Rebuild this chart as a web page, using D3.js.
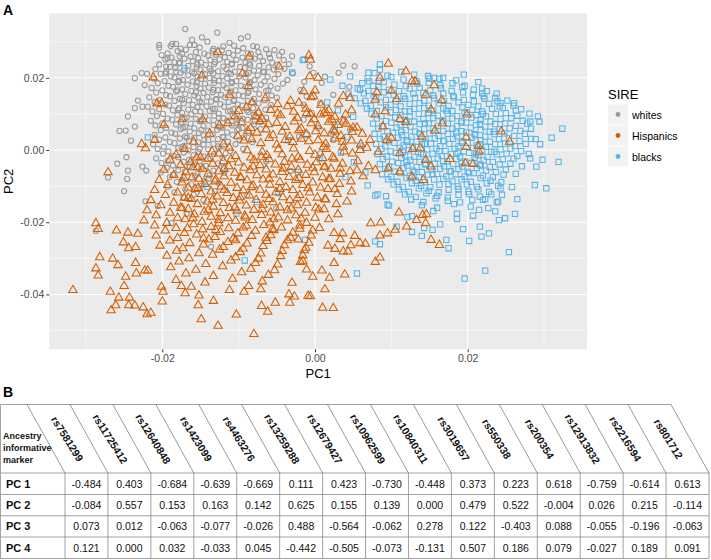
<!DOCTYPE html>
<html><head><meta charset="utf-8">
<script src="https://cdn.jsdelivr.net/npm/d3@7"></script>
<style>body{margin:0;background:#fff}svg{display:block;font-family:"Liberation Sans",Arial,Helvetica,sans-serif}</style>
</head><body><svg id="c" width="711" height="560"></svg>
<script>
// ---------- Panel A data (PC1, PC2) ----------
const sireGroups = ["whites", "Hispanics", "blacks"];
const sireColors = ["#999999", "#D55E00", "#56B4E9"];
const xTicks = [-0.02, 0, 0.02];
const yTicks = [-0.04, -0.02, 0, 0.02];

const whites = [
[-.0170,.0335],[-.0128,.0325],[-.0204,.0291],[-.0204,.0283],[-.0236,.0199],[-.0227,.0213],[-.0220,.0211],[-.0223,.0180],[-.0232,.0137],[-.0226,.0120],[-.0236,.0116],[-.0245,.0093],[-.0256,.0053],[-.0248,.0054],[-.0241,.0026],[-.0236,.0065],[-.0247,-.0020],[-.0259,-.0038],[-.0245,-.0057],[-.0246,-.0080],[-.0271,-.0076],[-.0226,-.0046],[-.0221,-.0057],[-.0287,-.0224],[-.0250,-.0114],[-.0222,-.0142],[-.0206,-.0155],[-.0188,-.0203],[-.0136,-.0268],
[-.0187,.0294],[-.0182,.0294],[-.0161,.0305],[-.0158,.0291],[-.0148,.0312],[-.0141,.0300],[-.0112,.0297],[-.0097,.0309],[-.0088,.0314],[-.0076,.0286],[-.0064,.0279],[-.0053,.0277],[-.0043,.0272],[-.0030,.0260],[-.0014,.0189],[-.0036,.0194],[-.0019,.0166],[-.0177,.0259],[-.0193,.0254],[-.0195,.0231],[-.0196,.0212],
[-.0007,.0232],[-.0002,.0214],[.0009,.0186],[.0013,.0203],[.0031,.0214],[.0037,.0234],[.0052,.0232],[.0045,.0175],[.0024,.0153],[.0007,.0130],[-.0011,.0149],[-.0015,.0125],[-.0004,.0102],[-.0015,.0084],[.0037,.0084],[.0046,.0056],[.0024,.0028],[.0007,-.0009],
[-.0189,.0288],[-.0176,.0281],[-.0164,.0291],[-.0151,.0284],[-.0133,.0280],[-.0120,.0287],[-.0106,.0289],[-.0094,.0282],[-.0081,.0288],
[-.0193,.0268],[-.0180,.0274],[-.0169,.0278],[-.0156,.0271],[-.0145,.0267],[-.0134,.0275],[-.0122,.0276],[-.0113,.0269],[-.0101,.0275],[-.0088,.0268],[-.0074,.0271],[-.0060,.0266],
[-.0201,.0263],[-.0188,.0256],[-.0174,.0266],[-.0163,.0259],[-.0153,.0255],[-.0140,.0262],[-.0130,.0264],[-.0118,.0257],[-.0107,.0263],[-.0095,.0256],[-.0084,.0266],[-.0072,.0259],[-.0059,.0255],[-.0047,.0262],
[-.0196,.0251],[-.0184,.0243],[-.0171,.0253],[-.0160,.0246],[-.0149,.0242],[-.0137,.0249],[-.0125,.0251],[-.0115,.0244],[-.0103,.0250],[-.0091,.0243],[-.0079,.0253],[-.0068,.0246],[-.0056,.0242],[-.0041,.0249],
[-.0204,.0237],[-.0190,.0230],[-.0178,.0240],[-.0166,.0233],[-.0155,.0229],[-.0143,.0236],[-.0132,.0238],[-.0120,.0231],[-.0109,.0237],[-.0098,.0230],[-.0086,.0240],[-.0073,.0233],[-.0061,.0229],[-.0049,.0236],[-.0034,.0238],
[-.0209,.0224],[-.0195,.0217],[-.0183,.0227],[-.0172,.0220],[-.0161,.0216],[-.0150,.0223],[-.0138,.0225],[-.0127,.0218],[-.0116,.0224],[-.0105,.0217],[-.0092,.0227],[-.0080,.0220],[-.0067,.0216],[-.0054,.0223],[-.0040,.0225],
[-.0202,.0211],[-.0189,.0204],[-.0176,.0214],[-.0166,.0207],[-.0154,.0203],[-.0144,.0210],[-.0133,.0212],[-.0121,.0205],[-.0110,.0211],[-.0099,.0204],[-.0087,.0214],[-.0075,.0207],[-.0062,.0203],[-.0048,.0210],[-.0029,.0212],
[-.0211,.0198],[-.0197,.0191],[-.0184,.0201],[-.0173,.0194],[-.0160,.0190],[-.0149,.0197],[-.0138,.0199],[-.0126,.0192],[-.0115,.0198],[-.0103,.0191],[-.0091,.0201],[-.0079,.0194],[-.0066,.0190],[-.0053,.0197],
[-.0206,.0185],[-.0192,.0178],[-.0179,.0188],[-.0167,.0181],[-.0155,.0177],[-.0144,.0184],[-.0132,.0186],[-.0120,.0179],[-.0109,.0185],[-.0097,.0178],[-.0085,.0188],[-.0071,.0181],[-.0058,.0177],[-.0042,.0184],
[-.0214,.0172],[-.0200,.0165],[-.0186,.0175],[-.0174,.0168],[-.0162,.0164],[-.0150,.0171],[-.0139,.0173],[-.0127,.0166],[-.0116,.0172],[-.0104,.0165],[-.0091,.0175],[-.0078,.0168],[-.0064,.0164],[-.0049,.0171],
[-.0208,.0159],[-.0195,.0152],[-.0182,.0162],[-.0170,.0155],[-.0158,.0151],[-.0146,.0158],[-.0134,.0160],[-.0123,.0153],[-.0111,.0159],[-.0100,.0152],[-.0087,.0162],[-.0073,.0155],[-.0057,.0151],
[-.0217,.0146],[-.0203,.0139],[-.0190,.0149],[-.0177,.0142],[-.0165,.0138],[-.0153,.0145],[-.0141,.0147],[-.0130,.0140],[-.0118,.0146],[-.0106,.0139],[-.0094,.0149],[-.0080,.0142],[-.0066,.0138],[-.0050,.0145],
[-.0210,.0133],[-.0196,.0126],[-.0184,.0136],[-.0172,.0129],[-.0160,.0125],[-.0148,.0132],[-.0136,.0134],[-.0124,.0127],[-.0113,.0133],[-.0101,.0126],[-.0088,.0136],[-.0074,.0129],[-.0058,.0125],
[-.0219,.0120],[-.0204,.0113],[-.0191,.0123],[-.0178,.0116],[-.0166,.0112],[-.0154,.0119],[-.0142,.0121],[-.0131,.0114],[-.0119,.0120],[-.0107,.0113],[-.0095,.0123],[-.0081,.0116],[-.0065,.0112],
[-.0213,.0107],[-.0199,.0100],[-.0186,.0110],[-.0174,.0103],[-.0162,.0099],[-.0150,.0106],[-.0138,.0108],[-.0126,.0101],[-.0114,.0107],[-.0102,.0100],[-.0089,.0110],[-.0074,.0103],
[-.0207,.0094],[-.0193,.0087],[-.0180,.0097],[-.0168,.0090],[-.0156,.0086],[-.0144,.0093],[-.0132,.0095],[-.0120,.0088],[-.0108,.0094],[-.0095,.0087],[-.0080,.0097],[-.0064,.0090],
[-.0215,.0081],[-.0200,.0074],[-.0187,.0084],[-.0175,.0077],[-.0163,.0073],[-.0151,.0080],[-.0139,.0082],[-.0127,.0075],[-.0115,.0081],[-.0102,.0074],[-.0088,.0084],[-.0072,.0077],
[-.0209,.0068],[-.0195,.0061],[-.0182,.0071],[-.0170,.0064],[-.0158,.0060],[-.0146,.0067],[-.0133,.0069],[-.0121,.0062],[-.0109,.0068],[-.0095,.0061],[-.0080,.0071],
[-.0202,.0055],[-.0188,.0048],[-.0176,.0058],[-.0164,.0051],[-.0152,.0047],[-.0140,.0054],[-.0128,.0056],[-.0115,.0049],[-.0102,.0055],[-.0087,.0048],[-.0071,.0058],
[-.0210,.0042],[-.0196,.0035],[-.0183,.0045],[-.0170,.0038],[-.0158,.0034],[-.0146,.0041],[-.0134,.0043],[-.0121,.0036],[-.0108,.0042],[-.0093,.0035],
[-.0204,.0029],[-.0190,.0022],[-.0177,.0032],[-.0165,.0025],[-.0153,.0021],[-.0140,.0028],[-.0127,.0030],[-.0114,.0023],[-.0099,.0029],[-.0082,.0022],
[-.0212,.0016],[-.0198,.0009],[-.0184,.0019],[-.0171,.0012],[-.0159,.0008],[-.0146,.0015],[-.0133,.0017],[-.0119,.0010],[-.0104,.0016],
[-.0206,.0003],[-.0192,-.0004],[-.0179,.0006],[-.0166,-.0001],[-.0153,-.0005],[-.0140,.0002],[-.0126,.0004],[-.0111,-.0003],[-.0094,.0003],
[-.0199,-.0010],[-.0185,-.0017],[-.0172,-.0007],[-.0159,-.0014],[-.0146,-.0018],[-.0132,-.0011],[-.0117,-.0009],
[-.0208,-.0023],[-.0193,-.0030],[-.0179,-.0020],[-.0165,-.0027],[-.0151,-.0031],[-.0137,-.0024],[-.0121,-.0022],
[-.0201,-.0036],[-.0186,-.0043],[-.0172,-.0033],[-.0158,-.0040],[-.0143,-.0044],[-.0127,-.0037],
[-.0194,-.0049],[-.0179,-.0056],[-.0164,-.0046],[-.0149,-.0053],[-.0133,-.0057],
[-.0202,-.0062],[-.0186,-.0069],[-.0170,-.0059],[-.0154,-.0066],[-.0138,-.0070],[-.0119,-.0063],
[-.0190,-.0075],[-.0174,-.0082],[-.0157,-.0072],[-.0139,-.0079],
[-.0181,-.0088],[-.0162,-.0095],[-.0145,-.0085],[-.0126,-.0092],
[-.0193,-.0102],[-.0170,-.0109],[-.0149,-.0099],
[-.0184,-.0117],[-.0159,-.0124],[-.0131,-.0114],
[-.0172,-.0132],[-.0146,-.0139],
[-.0064,-.0031],[-.0032,-.0058],[-.0089,-.0125],[-.0051,-.0162],[-.0168,-.0177],[.0021,.0045],[.0004,.0061],[-.0021,.0037],
[-.0177,.0242],[-.0154,.0237],[-.0131,.0244],[-.0109,.0239],[-.0085,.0235],
[-.0182,.0217],[-.0158,.0212],[-.0136,.0219],[-.0113,.0214],[-.0090,.0210],[-.0068,.0217],
[-.0178,.0192],[-.0155,.0187],[-.0132,.0194],[-.0109,.0189],[-.0086,.0185],
[-.0180,.0165],[-.0156,.0160],[-.0133,.0167],[-.0110,.0162],[-.0088,.0158],[-.0061,.0165],
[-.0174,.0139],[-.0151,.0134],[-.0129,.0141],[-.0106,.0136],[-.0083,.0132],
[-.0179,.0112],[-.0157,.0107],[-.0134,.0114],[-.0111,.0109],[-.0087,.0105],
[-.0171,.0087],[-.0149,.0082],[-.0126,.0089],[-.0103,.0084],[-.0079,.0080],
[-.0173,.0061],[-.0149,.0056],[-.0125,.0063],[-.0100,.0058],
[-.0168,.0034],[-.0145,.0029],[-.0120,.0036],
[-.0175,.0008],[-.0151,.0003],[-.0127,.0010]
];

const hispanics = [
[-.0317,-.0388],[-.0287,-.0203],[-.0284,-.0219],[-.0260,-.0223],[-.0245,-.0229],[-.0251,-.0256],[-.0232,-.0232],[-.0244,-.0272],[-.0235,-.0269],[-.0282,-.0297],[-.0265,-.0301],[-.0258,-.0319],[-.0287,-.0328],[-.0284,-.0348],[-.0248,-.0351],[-.0235,-.0313],[-.0234,-.0342],[-.0223,-.0334],[-.0219,-.0334],[-.0250,-.0377],[-.0268,-.0393],[-.0257,-.0409],[-.0243,-.0409],[-.0244,-.0430],[-.0236,-.0431],[-.0267,-.0444],[-.0261,-.0430],[-.0225,-.0436],[-.0220,-.0455],[-.0215,-.0451],[-.0201,-.0379],[-.0199,-.0393],[-.0200,-.0420],[-.0170,-.0397],[-.0153,-.0430],[-.0149,-.0469],[-.0133,-.0418],[-.0127,-.0487],[-.0103,-.0456],[-.0080,-.0510],[-.0070,-.0432],[-.0062,-.0448],[-.0052,-.0423],[-.0033,-.0423],[-.0027,-.0406],[-.0009,-.0404],[-.0034,-.0400],[-.0071,-.0386],[-.0093,-.0393],[-.0087,-.0377],[-.0112,-.0388],[-.0152,-.0403],[-.0162,-.0379],[-.0175,-.0377],
[.0010,-.0437],[.0024,-.0438],[.0013,-.0386],[-.0006,-.0405],[.0019,-.0354],[.0039,-.0345],[.0009,-.0334],[-.0003,-.0351],[-.0011,-.0331],[-.0016,-.0307],[.0025,-.0313],[.0079,-.0310],[.0085,-.0298],[.0066,-.0260],[.0059,-.0258],[.0047,-.0264],[.0037,-.0281],[.0043,-.0281],[.0085,-.0237],[.0095,-.0231],[.0105,-.0221],[.0120,-.0212],[.0152,-.0249],[.0163,-.0263],[.0073,-.0203],[.0086,-.0201],[.0145,-.0203],[.0133,-.0194],[.0141,-.0180],[.0146,-.0178],[.0110,-.0173],[.0052,-.0238],[.0036,-.0231],[.0033,-.0247],[.0026,-.0274],
[-.0212,.0201],[-.0127,.0271],[-.0086,.0259],[-.0047,.0231],[-.0008,.0262],[-.0006,.0250],[-.0148,.0206],[-.0095,.0212],[-.0087,.0177],[-.0207,.0129],[-.0201,.0129],[-.0198,.0070],[-.0174,.0085],[-.0147,.0085],[-.0227,.0016],[-.0222,.0005],[-.0210,.0028],[-.0271,-.0062],[-.0112,.0153],[-.0100,.0108],[-.0114,.0074],[-.0078,.0093],
[.0096,.0239],[.0119,.0218],[.0127,.0190],[.0131,.0190],[.0156,.0179],[.0145,.0153],[.0166,.0138],[.0152,.0112],[.0199,.0098],[.0167,.0074],[.0157,.0054],[.0140,.0037],[.0198,.0035],[.0198,.0008],[.0214,.0011],[.0215,-.0005],[.0244,.0051],[.0255,.0023],[.0177,-.0025],[.0197,-.0037],[.0207,-.0039],[.0145,-.0028],[.0152,-.0046],[.0128,.0003],[.0138,.0005],[.0111,-.0009],[.0100,.0033],[.0081,.0160],[.0100,.0164],[.0085,.0200],[.0107,.0141],[.0079,.0098],[.0079,.0139],[.0092,.0107],[.0111,.0086],[.0119,.0077],[.0046,.0144],[.0037,.0149],[.0048,.0110],[.0037,.0079],[.0055,.0062],[.0089,.0065],[.0094,.0028],[.0072,.0028],[.0026,.0051],[.0022,.0084],[.0007,.0098],[.0015,.0102],[-.0011,.0102],[-.0002,.0149],[.0000,.0165],[.0004,.0200],[-.0007,.0204],[-.0015,.0163],[.0011,.0009],[.0013,-.0046],[.0033,-.0051],[.0055,-.0056],[.0079,-.0056],[.0096,-.0051],[.0111,-.0060],[.0127,-.0074],[.0142,-.0083],[.0083,-.0005],[.0059,.0000],[.0037,.0009],
[-.0065,.0143],[-.0032,.0136],[-.0005,.0146],
[-.0090,.0118],[-.0058,.0111],[-.0036,.0121],[-.0012,.0114],[.0018,.0110],
[-.0105,.0093],[-.0069,.0086],[-.0045,.0096],[-.0023,.0089],[-.0001,.0085],[.0026,.0092],
[-.0125,.0068],[-.0084,.0061],[-.0061,.0071],[-.0039,.0064],[-.0018,.0060],[.0004,.0067],[.0030,.0069],[.0050,.0062],
[-.0138,.0045],[-.0101,.0038],[-.0076,.0048],[-.0055,.0041],[-.0033,.0037],[-.0011,.0044],[.0012,.0046],[.0034,.0039],[.0062,.0045],
[-.0159,.0023],[-.0120,.0016],[-.0093,.0026],[-.0071,.0019],[-.0050,.0015],[-.0029,.0022],[-.0008,.0024],[.0014,.0017],[.0036,.0023],[.0060,.0016],
[-.0171,.0003],[-.0135,-.0004],[-.0112,.0006],[-.0089,-.0001],[-.0069,-.0005],[-.0048,.0002],[-.0028,.0004],[-.0007,-.0003],[.0015,.0003],[.0038,-.0004],[.0068,.0006],
[-.0182,-.0013],[-.0150,-.0020],[-.0126,-.0010],[-.0104,-.0017],[-.0084,-.0021],[-.0063,-.0014],[-.0043,-.0012],[-.0022,-.0019],[.0000,-.0013],[.0023,-.0020],[.0049,-.0010],
[-.0190,-.0027],[-.0163,-.0034],[-.0140,-.0024],[-.0120,-.0031],[-.0100,-.0035],[-.0080,-.0028],[-.0060,-.0026],[-.0040,-.0033],[-.0019,-.0027],[.0002,-.0034],[.0025,-.0024],[.0056,-.0031],
[-.0176,-.0041],[-.0154,-.0048],[-.0134,-.0038],[-.0113,-.0045],[-.0093,-.0049],[-.0072,-.0042],[-.0052,-.0040],[-.0031,-.0047],[-.0010,-.0041],[.0012,-.0048],[.0036,-.0038],[.0070,-.0045],
[-.0198,-.0055],[-.0169,-.0062],[-.0147,-.0052],[-.0126,-.0059],[-.0105,-.0063],[-.0085,-.0056],[-.0064,-.0054],[-.0043,-.0061],[-.0022,-.0055],[-.0001,-.0062],[.0021,-.0052],[.0046,-.0059],
[-.0185,-.0069],[-.0161,-.0076],[-.0140,-.0066],[-.0119,-.0073],[-.0097,-.0077],[-.0076,-.0070],[-.0055,-.0068],[-.0034,-.0075],[-.0012,-.0069],[.0010,-.0076],[.0033,-.0066],[.0063,-.0073],
[-.0204,-.0083],[-.0174,-.0090],[-.0152,-.0080],[-.0131,-.0087],[-.0110,-.0091],[-.0089,-.0084],[-.0068,-.0082],[-.0046,-.0089],[-.0025,-.0083],[-.0003,-.0090],[.0020,-.0080],[.0047,-.0087],
[-.0193,-.0097],[-.0166,-.0104],[-.0144,-.0094],[-.0123,-.0101],[-.0102,-.0105],[-.0081,-.0098],[-.0059,-.0096],[-.0038,-.0103],[-.0016,-.0097],[.0007,-.0104],[.0032,-.0094],
[-.0210,-.0111],[-.0180,-.0118],[-.0157,-.0108],[-.0136,-.0115],[-.0115,-.0119],[-.0094,-.0112],[-.0072,-.0110],[-.0051,-.0117],[-.0029,-.0111],[-.0007,-.0118],[.0017,-.0108],[.0048,-.0115],
[-.0196,-.0125],[-.0171,-.0132],[-.0149,-.0122],[-.0128,-.0129],[-.0107,-.0133],[-.0086,-.0126],[-.0064,-.0124],[-.0042,-.0131],[-.0020,-.0125],[.0003,-.0132],[.0029,-.0122],
[-.0215,-.0139],[-.0185,-.0146],[-.0162,-.0136],[-.0141,-.0143],[-.0120,-.0147],[-.0099,-.0140],[-.0077,-.0138],[-.0055,-.0145],[-.0033,-.0139],[-.0011,-.0146],[.0013,-.0136],[.0042,-.0143],
[-.0202,-.0153],[-.0176,-.0160],[-.0154,-.0150],[-.0133,-.0157],[-.0112,-.0161],[-.0090,-.0154],[-.0068,-.0152],[-.0046,-.0159],[-.0023,-.0153],[.0001,-.0160],[.0028,-.0150],
[-.0220,-.0167],[-.0190,-.0174],[-.0166,-.0164],[-.0145,-.0171],[-.0124,-.0175],[-.0102,-.0168],[-.0080,-.0166],[-.0058,-.0173],[-.0036,-.0167],[-.0013,-.0174],[.0012,-.0164],
[-.0208,-.0181],[-.0180,-.0188],[-.0158,-.0178],[-.0136,-.0185],[-.0114,-.0189],[-.0092,-.0182],[-.0070,-.0180],[-.0048,-.0187],[-.0025,-.0181],[.0000,-.0188],[.0030,-.0178],
[-.0224,-.0195],[-.0194,-.0202],[-.0170,-.0192],[-.0148,-.0199],[-.0126,-.0203],[-.0104,-.0196],[-.0082,-.0194],[-.0059,-.0201],[-.0036,-.0195],[-.0011,-.0202],[.0018,-.0192],
[-.0210,-.0209],[-.0182,-.0216],[-.0159,-.0206],[-.0136,-.0213],[-.0113,-.0217],[-.0090,-.0210],[-.0067,-.0208],[-.0044,-.0215],[-.0020,-.0209],[.0006,-.0216],
[-.0196,-.0223],[-.0171,-.0230],[-.0147,-.0220],[-.0124,-.0227],[-.0101,-.0231],[-.0078,-.0224],[-.0054,-.0222],[-.0029,-.0229],[-.0003,-.0223],[.0025,-.0230],
[-.0208,-.0237],[-.0180,-.0244],[-.0155,-.0234],[-.0131,-.0241],[-.0107,-.0245],[-.0083,-.0238],[-.0058,-.0236],[-.0032,-.0243],[-.0005,-.0237],
[-.0190,-.0251],[-.0164,-.0258],[-.0139,-.0248],[-.0114,-.0255],[-.0089,-.0259],[-.0063,-.0252],[-.0036,-.0250],[-.0008,-.0257],
[-.0203,-.0265],[-.0173,-.0272],[-.0146,-.0262],[-.0120,-.0269],[-.0094,-.0273],[-.0068,-.0266],[-.0040,-.0264],[-.0012,-.0271],[.0017,-.0265],
[-.0181,-.0279],[-.0152,-.0286],[-.0125,-.0276],[-.0098,-.0283],[-.0071,-.0287],[-.0043,-.0280],[-.0014,-.0278],
[-.0194,-.0293],[-.0165,-.0300],[-.0134,-.0290],[-.0104,-.0297],[-.0074,-.0301],[-.0045,-.0294],[-.0016,-.0292],
[-.0178,-.0309],[-.0143,-.0316],[-.0110,-.0306],[-.0078,-.0313],[-.0049,-.0317],[-.0019,-.0310],
[-.0189,-.0325],[-.0156,-.0332],[-.0121,-.0322],[-.0084,-.0329],[-.0053,-.0333],
[-.0169,-.0342],[-.0133,-.0349],[-.0096,-.0339],[-.0061,-.0346],
[-.0182,-.0360],[-.0144,-.0367],[-.0108,-.0357],[-.0069,-.0364],[-.0030,-.0368],
[-.0155,-.0021],[-.0110,-.0026],[-.0070,-.0019],[-.0030,-.0024],[.0010,-.0022],
[-.0160,-.0048],[-.0119,-.0053],[-.0081,-.0046],[-.0042,-.0051],[-.0003,-.0049],
[-.0172,-.0077],[-.0130,-.0082],[-.0098,-.0075],[-.0060,-.0080],[-.0021,-.0078],[.0018,-.0081],
[-.0153,-.0105],[-.0119,-.0110],[-.0083,-.0103],[-.0046,-.0108],[-.0009,-.0106],[.0026,-.0109],
[-.0166,-.0133],[-.0134,-.0138],[-.0098,-.0131],[-.0060,-.0136],[-.0023,-.0134],[.0014,-.0137],
[-.0174,-.0161],[-.0140,-.0166],[-.0105,-.0159],[-.0069,-.0164],[-.0031,-.0162],[.0005,-.0165],
[-.0160,-.0189],[-.0126,-.0194],[-.0091,-.0187],[-.0054,-.0192],[-.0018,-.0190],
[-.0167,-.0217],[-.0130,-.0222],[-.0094,-.0215],[-.0056,-.0220],[-.0020,-.0218],
[-.0146,-.0245],[-.0104,-.0250],[-.0064,-.0243],[-.0022,-.0248],
[-.0082,.0132],[-.0049,.0127],[-.0021,.0131],[.0008,.0125],[.0031,.0128],
[-.0074,.0104],[-.0049,.0101],[-.0028,.0106],[-.0006,.0099],[.0012,.0103],[.0040,.0098],
[-.0096,.0077],[-.0072,.0080],[-.0050,.0075],[-.0027,.0079],[-.0005,.0074],[.0018,.0078],[.0041,.0073],
[-.0088,.0053],[-.0064,.0057],[-.0043,.0051],[-.0021,.0055],[.0001,.0052],[.0024,.0056],[.0049,.0050],
[-.0083,.0030],[-.0060,.0033],[-.0039,.0028],[-.0018,.0031],[.0004,.0027],[.0026,.0032],[.0048,.0026]
];

const blacks = [
[.0078,.0213],[.0095,.0206],[.0113,.0216],[.0130,.0209],[.0148,.0205],
[.0069,.0199],[.0084,.0192],[.0100,.0202],[.0116,.0195],[.0133,.0191],[.0150,.0198],[.0168,.0200],[.0185,.0193],
[.0062,.0185],[.0076,.0178],[.0090,.0188],[.0104,.0181],[.0119,.0177],[.0134,.0184],[.0149,.0186],[.0164,.0179],[.0180,.0185],[.0196,.0178],[.0214,.0188],
[.0056,.0171],[.0070,.0164],[.0083,.0174],[.0097,.0167],[.0110,.0163],[.0124,.0170],[.0137,.0172],[.0151,.0165],[.0165,.0171],[.0179,.0164],[.0193,.0174],[.0208,.0167],[.0225,.0163],
[.0064,.0157],[.0077,.0150],[.0090,.0160],[.0103,.0153],[.0116,.0149],[.0129,.0156],[.0142,.0158],[.0155,.0151],[.0168,.0157],[.0181,.0150],[.0194,.0160],[.0207,.0153],[.0221,.0149],[.0238,.0156],
[.0052,.0143],[.0066,.0136],[.0080,.0146],[.0093,.0139],[.0106,.0135],[.0118,.0142],[.0131,.0144],[.0143,.0137],[.0156,.0143],[.0169,.0136],[.0182,.0146],[.0195,.0139],[.0208,.0135],[.0222,.0142],[.0236,.0144],[.0252,.0137],
[.0060,.0129],[.0073,.0122],[.0086,.0132],[.0099,.0125],[.0112,.0121],[.0124,.0128],[.0137,.0130],[.0149,.0123],[.0162,.0129],[.0175,.0122],[.0188,.0132],[.0201,.0125],[.0214,.0121],[.0228,.0128],[.0243,.0130],[.0260,.0123],
[.0068,.0115],[.0081,.0108],[.0093,.0118],[.0106,.0111],[.0118,.0107],[.0130,.0114],[.0143,.0116],[.0155,.0109],[.0168,.0115],[.0180,.0108],[.0193,.0118],[.0206,.0111],[.0219,.0107],[.0232,.0114],[.0246,.0116],[.0263,.0109],
[.0074,.0101],[.0087,.0094],[.0099,.0104],[.0112,.0097],[.0124,.0093],[.0136,.0100],[.0149,.0102],[.0161,.0095],[.0174,.0101],[.0186,.0094],[.0199,.0104],[.0211,.0097],[.0224,.0093],[.0237,.0100],[.0250,.0102],[.0265,.0095],[.0281,.0101],
[.0081,.0087],[.0093,.0080],[.0105,.0090],[.0118,.0083],[.0130,.0079],[.0142,.0086],[.0155,.0088],[.0167,.0081],[.0180,.0087],[.0192,.0080],[.0205,.0090],[.0217,.0083],[.0230,.0079],[.0243,.0086],[.0257,.0088],[.0272,.0081],
[.0076,.0073],[.0088,.0066],[.0100,.0076],[.0112,.0069],[.0125,.0065],[.0137,.0072],[.0149,.0074],[.0161,.0067],[.0174,.0073],[.0186,.0066],[.0198,.0076],[.0211,.0069],[.0223,.0065],[.0236,.0072],[.0249,.0074],[.0263,.0067],[.0278,.0073],
[.0083,.0059],[.0095,.0052],[.0107,.0062],[.0119,.0055],[.0131,.0051],[.0143,.0058],[.0155,.0060],[.0168,.0053],[.0180,.0059],[.0192,.0052],[.0204,.0062],[.0217,.0055],[.0229,.0051],[.0242,.0058],[.0255,.0060],[.0269,.0053],
[.0078,.0045],[.0090,.0038],[.0102,.0048],[.0114,.0041],[.0126,.0037],[.0138,.0044],[.0150,.0046],[.0162,.0039],[.0174,.0045],[.0186,.0038],[.0198,.0048],[.0210,.0041],[.0223,.0037],[.0235,.0044],[.0248,.0046],[.0261,.0039],[.0275,.0045],
[.0085,.0031],[.0097,.0024],[.0109,.0034],[.0121,.0027],[.0133,.0023],[.0145,.0030],[.0157,.0032],[.0169,.0025],[.0181,.0031],[.0193,.0024],[.0205,.0034],[.0217,.0027],[.0229,.0023],[.0241,.0030],[.0254,.0032],[.0268,.0025],[.0283,.0031],
[.0080,.0017],[.0092,.0010],[.0104,.0020],[.0116,.0013],[.0128,.0009],[.0140,.0016],[.0152,.0018],[.0164,.0011],[.0176,.0017],[.0188,.0010],[.0200,.0020],[.0212,.0013],[.0224,.0009],[.0236,.0016],[.0249,.0018],[.0262,.0011],[.0276,.0017],
[.0087,.0003],[.0099,-.0004],[.0111,.0006],[.0123,-.0001],[.0135,-.0005],[.0147,.0002],[.0159,.0004],[.0171,-.0003],[.0183,.0003],[.0195,-.0004],[.0207,.0006],[.0219,-.0001],[.0231,-.0005],[.0243,.0002],[.0256,.0004],[.0270,-.0003],
[.0082,-.0011],[.0094,-.0018],[.0106,-.0008],[.0118,-.0015],[.0130,-.0019],[.0142,-.0012],[.0154,-.0010],[.0166,-.0017],[.0178,-.0011],[.0190,-.0018],[.0202,-.0008],[.0214,-.0015],[.0226,-.0019],[.0238,-.0012],[.0251,-.0010],[.0265,-.0017],[.0280,-.0011],
[.0089,-.0025],[.0101,-.0032],[.0113,-.0022],[.0125,-.0029],[.0137,-.0033],[.0149,-.0026],[.0161,-.0024],[.0173,-.0031],[.0185,-.0025],[.0197,-.0032],[.0209,-.0022],[.0221,-.0029],[.0233,-.0033],[.0246,-.0026],[.0260,-.0024],
[.0085,-.0039],[.0097,-.0046],[.0109,-.0036],[.0121,-.0043],[.0133,-.0047],[.0145,-.0040],[.0157,-.0038],[.0169,-.0045],[.0181,-.0039],[.0193,-.0046],[.0205,-.0036],[.0217,-.0043],[.0229,-.0047],[.0242,-.0040],[.0256,-.0038],[.0271,-.0045],
[.0092,-.0053],[.0104,-.0060],[.0116,-.0050],[.0128,-.0057],[.0140,-.0061],[.0152,-.0054],[.0164,-.0052],[.0176,-.0059],[.0188,-.0053],[.0200,-.0060],[.0212,-.0050],[.0224,-.0057],[.0237,-.0061],[.0250,-.0054],
[.0088,-.0067],[.0100,-.0074],[.0112,-.0064],[.0124,-.0071],[.0136,-.0075],[.0148,-.0068],[.0160,-.0066],[.0172,-.0073],[.0184,-.0067],[.0196,-.0074],[.0208,-.0064],[.0220,-.0071],[.0233,-.0075],[.0247,-.0068],[.0263,-.0066],
[.0096,-.0081],[.0108,-.0088],[.0120,-.0078],[.0132,-.0085],[.0144,-.0089],[.0156,-.0082],[.0168,-.0080],[.0180,-.0087],[.0192,-.0081],[.0204,-.0088],[.0217,-.0078],[.0230,-.0085],[.0244,-.0089],
[.0103,-.0095],[.0115,-.0102],[.0127,-.0092],[.0139,-.0099],[.0151,-.0103],[.0163,-.0096],[.0175,-.0094],[.0187,-.0101],[.0199,-.0095],[.0212,-.0102],[.0225,-.0092],[.0240,-.0099],[.0258,-.0103],
[.0110,-.0109],[.0123,-.0116],[.0136,-.0106],[.0149,-.0113],[.0162,-.0117],[.0175,-.0110],[.0188,-.0108],[.0201,-.0115],[.0214,-.0109],[.0228,-.0116],[.0243,-.0106],
[.0118,-.0123],[.0132,-.0130],[.0146,-.0120],[.0160,-.0127],[.0174,-.0131],[.0188,-.0124],[.0202,-.0122],[.0216,-.0129],[.0231,-.0123],
[.0126,-.0137],[.0142,-.0144],[.0158,-.0134],[.0174,-.0141],[.0190,-.0145],[.0206,-.0138],[.0223,-.0136],[.0240,-.0143],
[.0140,-.0153],[.0160,-.0160],[.0182,-.0150],[.0204,-.0157],[.0227,-.0161],
[.0155,-.0169],[.0186,-.0176],[.0215,-.0166],
[.0020,.0195],[.0036,.0178],[.0044,.0156],[.0016,.0132],[.0030,.0110],[.0050,.0092],[.0026,.0064],[.0042,.0036],[.0059,.0012],[.0034,-.0008],[.0051,-.0034],[.0066,-.0062],[.0040,-.0075],[.0069,-.0098],[.0082,-.0123],[.0095,-.0151],[-.0011,.0042],[-.0035,.0027],[.0006,-.0024],[-.0022,-.0061],[-.0048,-.0119],[-.0076,-.0144],[-.0103,-.0176],[-.0141,-.0102],[-.0119,-.0049],[-.0013,-.0249],[-.0092,-.0306],
[.0055,-.0342],[.0196,-.0356],[.0223,-.0334],[.0254,-.0283],[.0202,-.0252],[.0175,-.0272],[.0172,-.0249],[.0194,-.0219],[.0218,-.0240],[.0228,-.0231],[.0140,-.0238],[.0127,-.0227],[.0154,-.0221],[.0085,-.0261],[.0079,-.0253],[.0241,-.0194],[.0249,-.0189],[.0262,-.0177],[.0265,-.0136],[.0303,-.0106],[.0288,-.0097],[.0216,-.0212],[.0186,-.0191],[.0207,-.0182],[.0236,-.0170],[.0238,-.0145],[.0245,-.0124],[.0220,-.0138],[.0127,-.0183],[.0121,-.0186],[.0107,-.0212],[.0097,-.0154],[.0079,-.0126],[.0093,-.0128],[.0143,-.0216],[.0164,-.0206],
[.0195,.0209],[.0156,.0200],[.0163,.0197],[.0085,.0237],[.0085,.0223],[.0070,.0214],[.0071,.0190],[.0059,.0167],[.0046,.0204],[.0219,.0170],[.0219,.0158],[.0261,.0130],[.0270,.0113],[.0292,.0093],[.0294,.0079],[.0324,.0059],[.0310,.0034],[.0282,.0079],[.0283,.0059],[.0289,.0030],[.0295,.0016],[.0319,-.0033],[.0298,-.0027],[.0290,-.0046],[.0282,-.0023],[.0242,.0121],[.0239,.0135],[-.0014,.0251],[-.0171,.0226],[-.0219,.0035],[-.0030,.0215],[-.0016,.0249],
[.0124,.0107],[.0148,.0102],[.0172,.0109],[.0196,.0104],[.0220,.0100],
[.0120,.0079],[.0144,.0074],[.0168,.0081],[.0192,.0076],[.0216,.0072],
[.0113,.0051],[.0137,.0046],[.0161,.0053],[.0185,.0048],[.0209,.0044],[.0234,.0051],
[.0120,.0023],[.0144,.0018],[.0168,.0025],[.0192,.0020],[.0216,.0016],
[.0115,-.0005],[.0139,-.0010],[.0163,-.0003],[.0187,-.0008],[.0211,-.0012],[.0235,-.0005],
[.0120,-.0033],[.0144,-.0038],[.0168,-.0031],[.0192,-.0036],[.0216,-.0040],
[.0130,-.0061],[.0154,-.0066],[.0178,-.0059],[.0202,-.0064]
];

// ---------- Panel B data ----------
const markers = ["rs7581299","rs11725412","rs12640848","rs1423099","rs4463276","rs13259288","rs12679427","rs10962599","rs10840311","rs3019657","rs550338","rs200354","rs12913832","rs2216594","rs801712"];
const pcLabels = ["PC 1","PC 2","PC 3","PC 4"];
const pc1 = ["-0.484","0.403","-0.684","-0.639","-0.669","0.111","0.423","-0.730","-0.448","0.373","0.223","0.618","-0.759","-0.614","0.613"];
const pc2 = ["-0.084","0.557","0.153","0.163","0.142","0.625","0.155","0.139","0.000","0.479","0.522","-0.004","0.026","0.215","-0.114"];
const pc3 = ["0.073","0.012","-0.063","-0.077","-0.026","0.488","-0.564","-0.062","0.278","0.122","-0.403","0.088","-0.055","-0.196","-0.063"];
const pc4 = ["0.121","0.000","0.032","-0.033","0.045","-0.442","-0.505","-0.073","-0.131","0.507","0.186","0.079","-0.027","0.189","0.091"];

// ---------- drawing ----------
const svg = d3.select("#c");
const P = {l: 49.3, r: 587, t: 13.3, b: 349.3};
const x = d3.scaleLinear().domain([-0.0348, 0.03563]).range([P.l, P.r]);
const y = d3.scaleLinear().domain([-0.0552, 0.03787]).range([P.b, P.t]);

svg.append("text").attr("x", 3).attr("y", 15).attr("font-size", 14).attr("font-weight", "bold").text("A");

svg.append("rect").attr("x", P.l).attr("y", P.t).attr("width", P.r - P.l).attr("height", P.b - P.t).attr("fill", "#EBEBEB");

const near = (a, b) => Math.abs(a - b) < 1e-9;
const xMinor = d3.ticks(x.domain()[0], x.domain()[1], 7).filter(v => !xTicks.some(t => near(t, v)));
const yMinor = d3.ticks(y.domain()[0], y.domain()[1], 9).filter(v => !yTicks.some(t => near(t, v)));
const grid = svg.append("g");
grid.selectAll(".vx").data(xMinor).join("line").attr("x1", d => x(d)).attr("x2", d => x(d)).attr("y1", P.t).attr("y2", P.b).attr("stroke", "#fff").attr("stroke-width", 0.55);
grid.selectAll(".hy").data(yMinor).join("line").attr("y1", d => y(d)).attr("y2", d => y(d)).attr("x1", P.l).attr("x2", P.r).attr("stroke", "#fff").attr("stroke-width", 0.55);
grid.selectAll(".VX").data(xTicks).join("line").attr("x1", d => x(d)).attr("x2", d => x(d)).attr("y1", P.t).attr("y2", P.b).attr("stroke", "#fff").attr("stroke-width", 1.1);
grid.selectAll(".HY").data(yTicks).join("line").attr("y1", d => y(d)).attr("y2", d => y(d)).attr("x1", P.l).attr("x2", P.r).attr("stroke", "#fff").attr("stroke-width", 1.1);

const pts = svg.append("g").attr("fill", "none").attr("stroke-width", 1.05);
pts.selectAll(".w").data(whites).join("circle")
  .attr("cx", d => x(d[0])).attr("cy", d => y(d[1])).attr("r", 2.6).attr("stroke", sireColors[0]);
const sq = d3.symbol().type(d3.symbolSquare).size(28);
pts.selectAll(".b").data(blacks).join("path").attr("d", sq)
  .attr("transform", d => `translate(${x(d[0])},${y(d[1])})`).attr("stroke", sireColors[2]);
const tri = d3.symbol().type(d3.symbolTriangle).size(31);
pts.selectAll(".h").data(hispanics).join("path").attr("d", tri)
  .attr("transform", d => `translate(${x(d[0])},${y(d[1])})`).attr("stroke", sireColors[1]);

const fmt = d => d.toFixed(2);
const xa = svg.append("g").attr("transform", `translate(0,${P.b})`)
  .call(d3.axisBottom(x).tickValues(xTicks).tickSize(3).tickPadding(2).tickFormat(fmt));
const ya = svg.append("g").attr("transform", `translate(${P.l},0)`)
  .call(d3.axisLeft(y).tickValues(yTicks).tickSize(3).tickPadding(2).tickFormat(fmt));
[xa, ya].forEach(a => {
  a.select(".domain").remove();
  a.selectAll(".tick line").attr("stroke", "#333").attr("stroke-width", 1);
  a.selectAll(".tick text").attr("fill", "#4D4D4D").attr("font-size", 10.5).attr("font-family", null);
});

svg.append("text").attr("x", (P.l + P.r) / 2).attr("y", 378).attr("text-anchor", "middle").attr("font-size", 13).text("PC1");
svg.append("text").attr("transform", `translate(13,${(P.t + P.b) / 2}) rotate(-90)`).attr("text-anchor", "middle").attr("font-size", 13).text("PC2");

// legend
const lg = svg.append("g");
lg.append("text").attr("x", 608).attr("y", 99).attr("font-size", 13).text("SIRE");
sireGroups.forEach((g, i) => {
  const top = 104.5 + i * 21;
  lg.append("rect").attr("x", 608).attr("y", top).attr("width", 20).attr("height", 20).attr("fill", "#F2F2F2");
  lg.append("circle").attr("cx", 618).attr("cy", top + 10).attr("r", 2.4).attr("fill", sireColors[i]);
  lg.append("text").attr("x", 632).attr("y", top + 14).attr("font-size", 10.5).text(g);
});

// ---------- Panel B table ----------
svg.append("text").attr("x", 3).attr("y", 397).attr("font-size", 14).attr("font-weight", "bold").text("B");
const T = {top: 404.5, head: 473, left: 0.5, first: 65, right: 709, slant: 38};
const rowsY = [473, 494.5, 515.8, 537, 558.5];
const colX = d3.scaleLinear().domain([0, markers.length]).range([T.first, T.right]);
const colW = colX(1) - colX(0);
const tb = svg.append("g").attr("stroke", "#8a8a8a").attr("stroke-width", 0.8).attr("fill", "none");
tb.append("line").attr("x1", T.left).attr("x2", T.right - T.slant).attr("y1", T.top).attr("y2", T.top);
tb.append("line").attr("x1", T.left).attr("x2", T.left).attr("y1", T.top).attr("y2", rowsY[4]);
rowsY.forEach(ry => tb.append("line").attr("x1", T.left).attr("x2", T.right).attr("y1", ry).attr("y2", ry));
d3.range(markers.length + 1).forEach(i => {
  const cx = colX(i);
  tb.append("line").attr("x1", cx).attr("x2", cx).attr("y1", rowsY[0]).attr("y2", rowsY[4]);
  tb.append("line").attr("x1", cx - T.slant).attr("x2", cx).attr("y1", T.top).attr("y2", T.head).attr("stroke", "#555").attr("stroke-width", 0.6);
});

const midY = (T.top + T.head) / 2;
svg.append("g").selectAll("text").data(markers).join("text")
  .attr("transform", (d, i) => `translate(${colX(i) + colW / 2 - T.slant / 2},${midY}) rotate(58)`)
  .attr("text-anchor", "middle").attr("dominant-baseline", "central")
  .attr("font-size", 10.5).attr("font-weight", "bold").attr("fill", "#111").text(d => d);

["Ancestry", "informative", "marker"].forEach((t, i) => {
  svg.append("text").attr("x", 3).attr("y", 439 + i * 11.8).attr("font-size", 9).attr("font-weight", "bold").attr("fill", "#111").text(t);
});

const pcRows = [pc1, pc2, pc3, pc4];
pcRows.forEach((vals, r) => {
  const cy = (rowsY[r] + rowsY[r + 1]) / 2;
  svg.append("text").attr("x", 6).attr("y", cy + 4).attr("font-size", 11).attr("font-weight", "bold").attr("fill", "#111").text(pcLabels[r]);
  svg.append("g").selectAll("text").data(vals).join("text")
    .attr("x", (d, i) => colX(i) + colW / 2).attr("y", cy + 3.8)
    .attr("text-anchor", "middle").attr("font-size", 10.5).attr("fill", "#111").text(d => d);
});
</script></body></html>
